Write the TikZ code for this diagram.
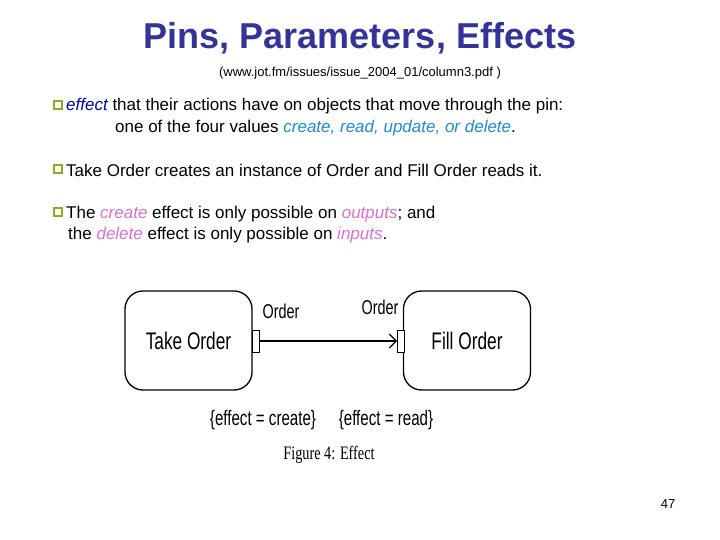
\documentclass[tikz,border=0pt]{standalone}
\usepackage{fontspec}
\setmainfont{Liberation Sans}
\newfontfamily\capfont{Liberation Serif}
\usetikzlibrary{arrows.meta}
\definecolor{titleblue}{RGB}{51,51,153}
\definecolor{effblue}{RGB}{0,0,170}
\definecolor{valblue}{RGB}{30,140,210}
\definecolor{pinkish}{RGB}{220,110,210}
\definecolor{olive}{RGB}{150,170,30}
\tikzset{
  bodytext/.style={anchor=west, font=\fontsize{17}{20}\selectfont, inner sep=0pt},
  bulletbox/.style={draw=olive, line width=1.2pt, minimum size=8pt, inner sep=0pt},
  action/.style={draw, line width=1.3pt, rounded corners=18pt, minimum width=127pt, minimum height=99pt},
  pin/.style={draw, line width=1pt, minimum width=7pt, minimum height=22pt, inner sep=0pt, fill=white},
  narrow/.style={font=\fontsize{24}{26}\selectfont, xscale=0.72, transform shape}
}
\begin{document}
\begin{tikzpicture}[x=1pt, y=-1pt]
    \useasboundingbox (0,0) rectangle (720,540);
    \node (title) at (360,38) {\fontsize{36}{40}\selectfont\bfseries\color{titleblue}Pins, Parameters, Effects};
    \node (source) at (360,73) {\fontsize{13}{15}\selectfont(www.jot.fm/issues/issue\_2004\_01/column3.pdf )};
    % bullet points
    \node[bulletbox] (b1) at (58,105) {};
    \node[bodytext] (l1) at (66,106) {\textcolor{effblue}{\itshape effect} that their actions have on objects that move through the pin:};
    \node[bodytext] (l1b) at (115,128) {one of the four values \textcolor{valblue}{\itshape create, read, update, or delete}.};
    \node[bulletbox] (b2) at (58,169) {};
    \node[bodytext] (l2) at (66,170) {Take Order creates an instance of Order and Fill Order reads it.};
    \node[bulletbox] (b3) at (58,212) {};
    \node[bodytext] (l3) at (66,214) {The \textcolor{pinkish}{\itshape create} effect is only possible on \textcolor{pinkish}{\itshape outputs}; and};
    \node[bodytext] (l3b) at (68,235) {the \textcolor{pinkish}{\itshape delete} effect is only possible on \textcolor{pinkish}{\itshape inputs}.};
    % activity diagram
    \node[action] (take) at (188.5,340.5) {};
    \node[narrow] at (take) {Take Order};
    \node[action] (fill) at (467,340.5) {};
    \node[narrow] at (fill) {Fill Order};
    \node[pin] (outpin) at (256,341) {};
    \node[pin] (inpin) at (401,341) {};
    \draw[line width=1.1pt, -{Straight Barb[length=7pt, width=14pt]}] (outpin) -- (inpin);
    \node[narrow, font=\fontsize{20}{22}\selectfont] (outname) at (281,311) {Order};
    \node[narrow, font=\fontsize{20}{22}\selectfont] (inname) at (380,307) {Order};
    \node[narrow, font=\fontsize{21}{23}\selectfont] (outeff) at (263,420) {\{effect = create\}};
    \node[narrow, font=\fontsize{21}{23}\selectfont] (ineff) at (386,420) {\{effect = read\}};
    \node[font=\capfont\fontsize{19}{21}\selectfont, xscale=0.75, transform shape] (caption) at (329,455) {Figure 4: Effect};
    \node[font=\fontsize{13}{15}\selectfont] (page) at (668,504) {47};
\end{tikzpicture}
\end{document}
